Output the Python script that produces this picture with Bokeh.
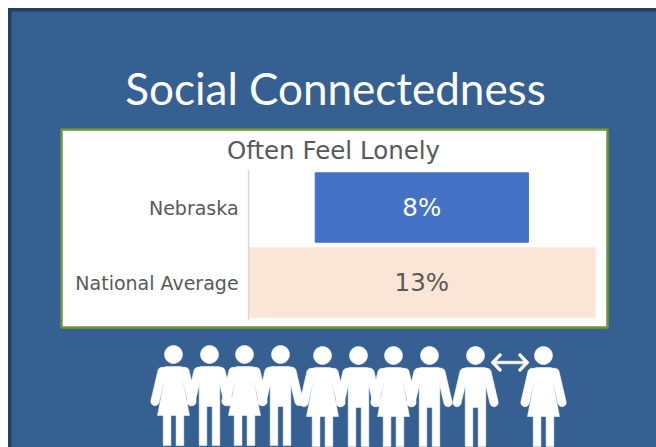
import numpy as np
from bokeh.plotting import figure
from bokeh.models import Range1d, ColumnDataSource
from bokeh.core.properties import value
from bokeh.embed import file_html
from bokeh.resources import INLINE

categories = ["Nebraska", "National Average"]
values = [8, 13]
labels = ["8%", "13%"]
bar_colors = ["#4472C4", "#FBE5D6"]
label_colors = ["#FFFFFF", "#595959"]
title_text = "Social Connectedness"
chart_title = "Often Feel Lonely"

BG = "#366092"
EDGE = "#22405F"
GREEN = "#6F9438"
GREY = "#595959"
W, H = 656, 447
SLIDE = 8

vals = np.array(values, dtype=float)
rows = np.arange(len(vals), dtype=float)
src = ColumnDataSource(dict(cat=categories, row=rows, left=-vals / 2, right=vals / 2,
                            color=bar_colors, label=labels, tc=label_colors,
                            mid=np.zeros(len(vals)), edge=np.full(len(vals), -6.5)))

p = figure(width=W, height=H, output_backend="svg", toolbar_location=None,
           x_range=Range1d(0, W), y_range=Range1d(H, 0),
           min_border=0, x_axis_location=None, y_axis_location=None)
p.background_fill_color = "white"
p.border_fill_color = "white"
p.outline_line_color = None
p.grid.visible = False

# value scale: 26.65 px per point, bars centred on x = 421.3; rows 75 px apart, first at y = 207
PX = 26.65
p.extra_x_ranges["val"] = Range1d((0 - 421.3) / PX, (W - 421.3) / PX)
p.extra_y_ranges["row"] = Range1d((H - 207) / 75, (0 - 207) / 75)


def patch(x, y, color="white"):
    p.patch(list(x), list(y), fill_color=color, line_color=color, line_width=0.5)


def circle(cx, cy, r):
    t = np.linspace(0, 2 * np.pi, 40, endpoint=False)
    patch(cx + r * np.cos(t), cy + r * np.sin(t))


def capsule(x0, y0, x1, y1, r):
    a = np.arctan2(y1 - y0, x1 - x0)
    t1 = np.linspace(a + np.pi / 2, a + 3 * np.pi / 2, 12)
    t2 = np.linspace(a - np.pi / 2, a + np.pi / 2, 12)
    patch(np.r_[x0 + r * np.cos(t1), x1 + r * np.cos(t2)], np.r_[y0 + r * np.sin(t1), y1 + r * np.sin(t2)])


# slide, its edges and the chart panel
p.quad(left=[SLIDE], right=[W], top=[SLIDE], bottom=[H], color=BG)
p.quad(left=[SLIDE], right=[SLIDE + 2.5], top=[SLIDE], bottom=[H], color=EDGE)
p.quad(left=[SLIDE], right=[W], top=[SLIDE], bottom=[SLIDE + 2.5], color=EDGE)
p.quad(left=[61], right=[607], top=[129], bottom=[327], fill_color="white", line_color=GREEN, line_width=2.5)

p.hbar(y="row", left="left", right="right", height=0.925, color="color", source=src,
       x_range_name="val", y_range_name="row")
p.segment(x0=[-6.5], x1=[-6.5], y0=[-0.5], y1=[1.5], line_color="#D9D9D9", line_width=1.5,
          x_range_name="val", y_range_name="row")
p.text(x="mid", y="row", text="label", text_color="tc", text_align="center", text_baseline="middle",
       text_font=value("DejaVu Sans"), text_font_size="24.5px", source=src, x_range_name="val", y_range_name="row")
p.text(x="edge", y="row", text="cat", x_offset=-10, text_color=GREY, text_align="right", text_baseline="middle",
       text_font=value("DejaVu Sans"), text_font_size="19px", source=src, x_range_name="val", y_range_name="row")

p.text(x=[335], y=[87], text=[title_text], text_align="center", text_baseline="middle", text_color="white",
       text_font=value("Lato"), text_font_size="44px")
p.text(x=[333], y=[150], text=[chart_title], text_align="center", text_baseline="middle", text_color=GREY,
       text_font=value("DejaVu Sans"), text_font_size="24.5px")


def person(cx, cy, kind):
    circle(cx, cy, 9)
    for s in (-1, 1):
        capsule(cx + s * 11.5, cy + 17, cx + s * 18.5, cy + 47, 4.2)
    if kind == "M":
        patch(cx + np.array([-9, 9, 13, 15, 10.3, 10.3, 2.7, 2.7, -2.7, -2.7, -10.3, -10.3, -15, -13]),
              cy + np.array([12, 12, 13.5, 18, 26, 91, 91, 52, 52, 91, 91, 26, 18, 13.5]))
    else:
        patch(cx + np.array([-7, 7, 12, 14.5, 9.5, 16, -16, -9.5, -14.5, -12]),
              cy + np.array([12, 12, 13.5, 18, 27, 61, 61, 27, 18, 13.5]))
        for a, b in ((-10.3, -2.6), (2.6, 10.3)):
            patch(cx + np.array([a, b, b, a]), cy + np.array([60, 60, 91, 91]))


people = [(173, 354, "F"), (209, 354, "M"), (244, 354, "F"), (280, 354, "M"), (322, 355, "F"),
          (358, 355, "M"), (393, 355, "F"), (429, 355, "M"), (475, 355, "M"), (543, 355, "F")]
for cx, cy, k in people:
    person(cx, cy, k)

# double arrow between the last two figures
ay = 362
patch([493, 526, 526, 493], [ay - 1.3, ay - 1.3, ay + 1.3, ay + 1.3])
for tip, d in ((492.5, 1), (526.5, -1)):
    capsule(tip, ay, tip + d * 7, ay - 7.5, 1.5)
    capsule(tip, ay, tip + d * 7, ay + 7.5, 1.5)

open("out.html", "w").write(file_html(p, INLINE))
